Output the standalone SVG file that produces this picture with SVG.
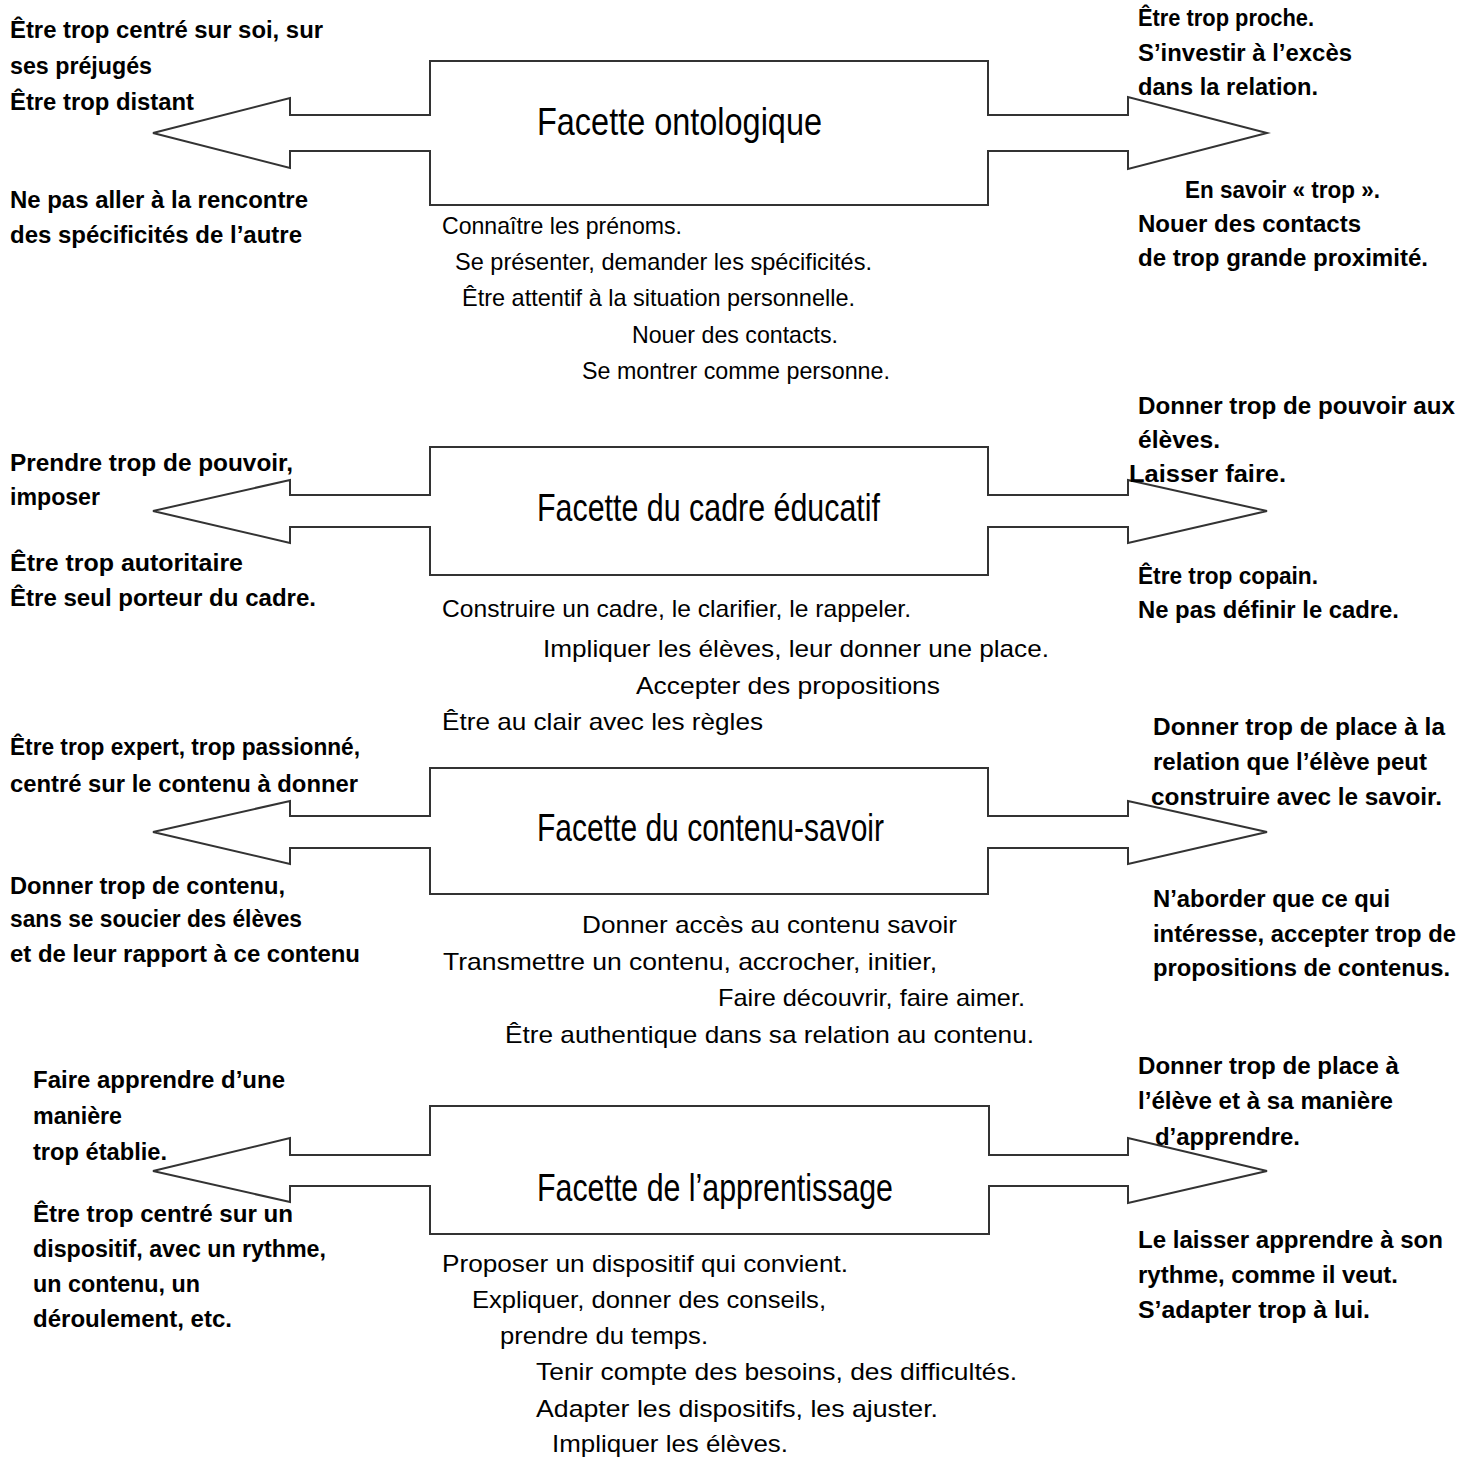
<svg xmlns="http://www.w3.org/2000/svg" width="1472" height="1460" viewBox="0 0 1472 1460">
<style>
text{font-family:"Liberation Sans",Arial,sans-serif;fill:#000}
.b{font-size:23px;font-weight:bold}
.r{font-size:24px}
.t{font-size:39px}
.shape{fill:#fff;stroke:#333;stroke-width:2;stroke-linejoin:miter}
</style>
<rect width="1472" height="1460" fill="#fff"/>
<g id="connectors"></g>

<g id="facette-ontologique">
<path class="shape" d="M153,133 L290,98 L290,115 L430,115 L430,61 L988,61 L988,115 L1128,115 L1128,97 L1267,133 L1128,169 L1128,151 L988,151 L988,205 L430,205 L430,151 L290,151 L290,168 Z"/>
<text class="t" x="537" y="135" textLength="285" lengthAdjust="spacingAndGlyphs">Facette ontologique</text>
</g>
<g id="onto-left">
<text class="b" x="10" y="38" textLength="313" lengthAdjust="spacingAndGlyphs">Être trop centré sur soi, sur</text>
<text class="b" x="10" y="74" textLength="142" lengthAdjust="spacingAndGlyphs">ses préjugés</text>
<text class="b" x="10" y="110" textLength="184" lengthAdjust="spacingAndGlyphs">Être trop distant</text>
<text class="b" x="10" y="208" textLength="298" lengthAdjust="spacingAndGlyphs">Ne pas aller à la rencontre</text>
<text class="b" x="10" y="243" textLength="292" lengthAdjust="spacingAndGlyphs">des spécificités de l’autre</text>
</g>
<g id="onto-right">
<text class="b" x="1138" y="26" textLength="176" lengthAdjust="spacingAndGlyphs">Être trop proche.</text>
<text class="b" x="1138" y="61" textLength="214" lengthAdjust="spacingAndGlyphs">S’investir à l’excès</text>
<text class="b" x="1138" y="95" textLength="180" lengthAdjust="spacingAndGlyphs">dans la relation.</text>
<text class="b" x="1185" y="198" textLength="195" lengthAdjust="spacingAndGlyphs">En savoir « trop ».</text>
<text class="b" x="1138" y="232" textLength="223" lengthAdjust="spacingAndGlyphs">Nouer des contacts</text>
<text class="b" x="1138" y="266" textLength="290" lengthAdjust="spacingAndGlyphs">de trop grande proximité.</text>
</g>
<g id="onto-center">
<text class="r" x="442" y="234" textLength="240" lengthAdjust="spacingAndGlyphs">Connaître les prénoms.</text>
<text class="r" x="455" y="270" textLength="417" lengthAdjust="spacingAndGlyphs">Se présenter, demander les spécificités.</text>
<text class="r" x="462" y="306" textLength="393" lengthAdjust="spacingAndGlyphs">Être attentif à la situation personnelle.</text>
<text class="r" x="632" y="343" textLength="206" lengthAdjust="spacingAndGlyphs">Nouer des contacts.</text>
<text class="r" x="582" y="379" textLength="308" lengthAdjust="spacingAndGlyphs">Se montrer comme personne.</text>
</g>

<g id="facette-cadre">
<path class="shape" d="M153,511 L290,480 L290,495 L430,495 L430,447 L988,447 L988,495 L1128,495 L1128,480 L1267,511 L1128,543 L1128,527 L988,527 L988,575 L430,575 L430,527 L290,527 L290,543 Z"/>
<text class="t" x="537" y="521" textLength="343" lengthAdjust="spacingAndGlyphs">Facette du cadre éducatif</text>
</g>
<g id="cadre-left">
<text class="b" x="10" y="471" textLength="283" lengthAdjust="spacingAndGlyphs">Prendre trop de pouvoir,</text>
<text class="b" x="10" y="505" textLength="90" lengthAdjust="spacingAndGlyphs">imposer</text>
<text class="b" x="10" y="571" textLength="233" lengthAdjust="spacingAndGlyphs">Être trop autoritaire</text>
<text class="b" x="10" y="606" textLength="306" lengthAdjust="spacingAndGlyphs">Être seul porteur du cadre.</text>
</g>
<g id="cadre-right">
<text class="b" x="1138" y="414" textLength="317" lengthAdjust="spacingAndGlyphs">Donner trop de pouvoir aux</text>
<text class="b" x="1138" y="448" textLength="82" lengthAdjust="spacingAndGlyphs">élèves.</text>
<text class="b" x="1129" y="482" textLength="157" lengthAdjust="spacingAndGlyphs">Laisser faire.</text>
<text class="b" x="1138" y="584" textLength="180" lengthAdjust="spacingAndGlyphs">Être trop copain.</text>
<text class="b" x="1138" y="618" textLength="261" lengthAdjust="spacingAndGlyphs">Ne pas définir le cadre.</text>
</g>
<g id="cadre-center">
<text class="r" x="442" y="617" textLength="469" lengthAdjust="spacingAndGlyphs">Construire un cadre, le clarifier, le rappeler.</text>
<text class="r" x="543" y="657" textLength="506" lengthAdjust="spacingAndGlyphs">Impliquer les élèves, leur donner une place.</text>
<text class="r" x="636" y="694" textLength="304" lengthAdjust="spacingAndGlyphs">Accepter des propositions</text>
<text class="r" x="442" y="730" textLength="321" lengthAdjust="spacingAndGlyphs">Être au clair avec les règles</text>
</g>

<g id="facette-contenu">
<path class="shape" d="M153,832 L290,801 L290,816 L430,816 L430,768 L988,768 L988,816 L1128,816 L1128,801 L1267,832 L1128,864 L1128,848 L988,848 L988,894 L430,894 L430,848 L290,848 L290,864 Z"/>
<text class="t" x="537" y="841" textLength="347" lengthAdjust="spacingAndGlyphs">Facette du contenu-savoir</text>
</g>
<g id="contenu-left">
<text class="b" x="10" y="755" textLength="350" lengthAdjust="spacingAndGlyphs">Être trop expert, trop passionné,</text>
<text class="b" x="10" y="792" textLength="348" lengthAdjust="spacingAndGlyphs">centré sur le contenu à donner</text>
<text class="b" x="10" y="894" textLength="275" lengthAdjust="spacingAndGlyphs">Donner trop de contenu,</text>
<text class="b" x="10" y="927" textLength="292" lengthAdjust="spacingAndGlyphs">sans se soucier des élèves</text>
<text class="b" x="10" y="962" textLength="350" lengthAdjust="spacingAndGlyphs">et de leur rapport à ce contenu</text>
</g>
<g id="contenu-right">
<text class="b" x="1153" y="735" textLength="292" lengthAdjust="spacingAndGlyphs">Donner trop de place à la</text>
<text class="b" x="1153" y="770" textLength="274" lengthAdjust="spacingAndGlyphs">relation que l’élève peut</text>
<text class="b" x="1151" y="805" textLength="291" lengthAdjust="spacingAndGlyphs">construire avec le savoir.</text>
<text class="b" x="1153" y="907" textLength="237" lengthAdjust="spacingAndGlyphs">N’aborder que ce qui</text>
<text class="b" x="1153" y="942" textLength="303" lengthAdjust="spacingAndGlyphs">intéresse, accepter trop de</text>
<text class="b" x="1153" y="976" textLength="297" lengthAdjust="spacingAndGlyphs">propositions de contenus.</text>
</g>
<g id="contenu-center">
<text class="r" x="582" y="933" textLength="375" lengthAdjust="spacingAndGlyphs">Donner accès au contenu savoir</text>
<text class="r" x="443" y="970" textLength="494" lengthAdjust="spacingAndGlyphs">Transmettre un contenu, accrocher, initier,</text>
<text class="r" x="718" y="1006" textLength="307" lengthAdjust="spacingAndGlyphs">Faire découvrir, faire aimer.</text>
<text class="r" x="505" y="1043" textLength="529" lengthAdjust="spacingAndGlyphs">Être authentique dans sa relation au contenu.</text>
</g>

<g id="facette-apprentissage">
<path class="shape" d="M153,1171 L290,1138 L290,1155 L430,1155 L430,1106 L989,1106 L989,1155 L1128,1155 L1128,1138 L1267,1171 L1128,1203 L1128,1186 L989,1186 L989,1234 L430,1234 L430,1186 L290,1186 L290,1202 Z"/>
<text class="t" x="537" y="1201" textLength="356" lengthAdjust="spacingAndGlyphs">Facette de l’apprentissage</text>
</g>
<g id="apprentissage-left">
<text class="b" x="33" y="1088" textLength="252" lengthAdjust="spacingAndGlyphs">Faire apprendre d’une</text>
<text class="b" x="33" y="1124" textLength="89" lengthAdjust="spacingAndGlyphs">manière</text>
<text class="b" x="33" y="1160" textLength="134" lengthAdjust="spacingAndGlyphs">trop établie.</text>
<text class="b" x="33" y="1222" textLength="260" lengthAdjust="spacingAndGlyphs">Être trop centré sur un</text>
<text class="b" x="33" y="1257" textLength="293" lengthAdjust="spacingAndGlyphs">dispositif, avec un rythme,</text>
<text class="b" x="33" y="1292" textLength="167" lengthAdjust="spacingAndGlyphs">un contenu, un</text>
<text class="b" x="33" y="1327" textLength="199" lengthAdjust="spacingAndGlyphs">déroulement, etc.</text>
</g>
<g id="apprentissage-right">
<text class="b" x="1138" y="1074" textLength="261" lengthAdjust="spacingAndGlyphs">Donner trop de place à</text>
<text class="b" x="1138" y="1109" textLength="255" lengthAdjust="spacingAndGlyphs">l’élève et à sa manière</text>
<text class="b" x="1155" y="1145" textLength="145" lengthAdjust="spacingAndGlyphs">d’apprendre.</text>
<text class="b" x="1138" y="1248" textLength="305" lengthAdjust="spacingAndGlyphs">Le laisser apprendre à son</text>
<text class="b" x="1138" y="1283" textLength="260" lengthAdjust="spacingAndGlyphs">rythme, comme il veut.</text>
<text class="b" x="1138" y="1318" textLength="232" lengthAdjust="spacingAndGlyphs">S’adapter trop à lui.</text>
</g>
<g id="apprentissage-center">
<text class="r" x="442" y="1272" textLength="406" lengthAdjust="spacingAndGlyphs">Proposer un dispositif qui convient.</text>
<text class="r" x="472" y="1308" textLength="354" lengthAdjust="spacingAndGlyphs">Expliquer, donner des conseils,</text>
<text class="r" x="500" y="1344" textLength="208" lengthAdjust="spacingAndGlyphs">prendre du temps.</text>
<text class="r" x="536" y="1380" textLength="481" lengthAdjust="spacingAndGlyphs">Tenir compte des besoins, des difficultés.</text>
<text class="r" x="536" y="1417" textLength="402" lengthAdjust="spacingAndGlyphs">Adapter les dispositifs, les ajuster.</text>
<text class="r" x="552" y="1452" textLength="236" lengthAdjust="spacingAndGlyphs">Impliquer les élèves.</text>
</g>
</svg>
